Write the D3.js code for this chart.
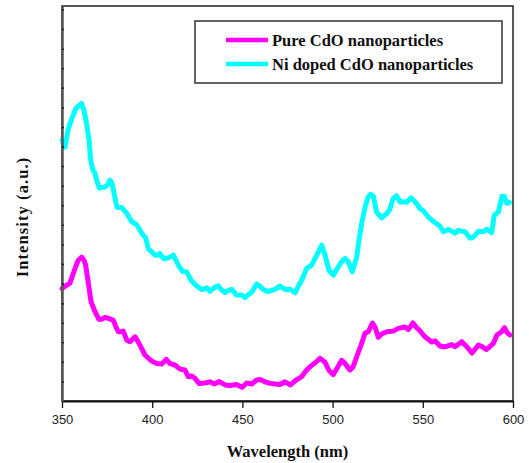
<!DOCTYPE html>
<html>
<head>
<meta charset="utf-8">
<script src="https://cdn.jsdelivr.net/npm/d3@7"></script>
<style>
  body { margin: 0; background: #fff; }
  .tick text { font-family: "Liberation Sans", Arial, sans-serif; font-size: 13px; fill: #222; }
  .title { font-family: "Liberation Serif", "Times New Roman", serif; font-weight: bold; font-size: 16.5px; fill: #111; }
</style>
</head>
<body>
<div id="chart"></div>
<script>
// Pure CdO nanoparticles
var pureWl = [350.0,352.6,354.4,357.2,359.0,360.9,362.2,363.1,364.6,366.1,368.3,370.5,372.2,373.8,375.5,377.5,378.4,380.3,381.2,383.1,384.0,385.9,387.7,390.5,393.2,396.0,399.7,402.5,405.3,407.8,409.9,412.6,415.4,418.2,420.0,421.9,423.7,426.1,429.3,432.0,434.4,437.2,440.4,443.1,446.8,449.8,452.4,455.2,457.9,459.8,462.5,465.3,468.1,470.8,473.6,476.7,479.7,482.9,485.6,488.0,490.2,493.0,495.8,498.0,500.4,503.2,505.0,506.9,509.6,511.3,513.5,516.1,518.0,519.8,522.1,523.5,525.3,527.2,530.0,533.6,536.4,540.1,542.0,544.5,546.6,548.4,551.2,554.9,556.8,559.5,562.3,566.0,567.8,571.6,574.5,577.3,580.8,582.8,585.4,589.1,591.1,593.7,595.3,596.8,598.3];
var pureInt = [5.75,5.92,6.02,6.77,7.19,7.35,7.19,6.94,6.02,5.07,4.56,4.17,4.18,4.27,4.23,4.16,4.13,3.70,3.54,3.55,3.57,3.11,3.03,3.28,2.86,2.35,2.04,1.92,1.89,2.13,1.91,1.84,1.63,1.58,1.24,1.28,1.16,0.89,0.92,0.98,0.87,0.99,0.82,0.79,0.84,0.70,0.92,0.87,1.07,1.10,0.98,0.90,0.87,0.84,0.98,0.82,1.07,1.25,1.58,1.79,1.94,2.18,1.98,1.56,1.35,1.79,2.08,1.92,1.58,1.73,2.30,2.94,3.47,3.54,3.98,3.79,3.25,3.42,3.54,3.57,3.71,3.78,3.65,3.99,3.75,3.59,3.28,3.01,3.08,2.81,2.76,2.88,2.77,3.03,2.76,2.45,2.86,2.78,2.63,2.94,3.37,3.54,3.75,3.48,3.37];

// Ni doped CdO nanoparticles
var niWl = [350.0,351.7,353.5,355.5,357.6,358.9,360.9,362.2,363.7,365.0,365.9,367.2,368.3,369.4,370.7,372.2,373.8,375.5,376.6,377.5,378.4,379.4,380.5,383.1,385.9,388.6,391.4,394.2,396.4,397.8,399.9,401.6,403.4,404.3,406.2,408.9,411.7,413.2,414.5,416.9,419.1,421.9,424.8,427.4,430.2,432.0,434.8,436.6,438.1,440.4,442.0,444.1,446.8,449.6,451.4,453.1,455.2,457.9,459.8,461.6,464.4,466.4,468.1,470.8,473.6,476.4,479.2,480.8,482.9,485.6,488.4,491.2,494.0,495.8,498.0,500.4,503.2,505.2,506.9,508.7,510.9,513.4,514.6,516.1,518.0,519.6,521.0,522.6,524.4,527.2,530.0,531.8,533.5,535.5,537.4,539.7,541.1,543.5,546.6,548.4,550.3,553.1,555.8,559.5,561.4,564.1,566.2,567.8,569.7,573.4,576.2,578.0,580.8,583.5,585.4,588.2,589.6,591.9,593.9,595.2,596.5,598.0];
var niInt = [13.32,12.97,13.91,14.44,14.93,15.05,15.20,14.85,14.13,13.32,12.30,11.79,11.63,11.22,10.87,10.92,10.92,11.07,11.28,11.17,10.82,10.36,9.90,9.88,9.59,9.16,9.01,8.57,8.32,7.79,7.60,7.45,7.45,7.54,7.28,7.31,7.45,7.19,6.94,6.61,6.60,6.12,5.87,5.69,5.78,5.61,5.82,5.89,5.71,5.54,5.64,5.71,5.41,5.41,5.29,5.41,5.56,5.97,5.87,5.69,5.59,5.66,5.70,5.87,5.70,5.71,5.53,5.82,6.17,6.77,6.94,7.45,7.96,7.45,6.68,6.43,6.85,7.14,7.28,7.11,6.60,7.36,8.21,9.07,9.90,10.41,10.56,10.46,9.64,9.36,9.58,9.80,10.34,10.48,10.17,10.18,10.15,10.38,10.09,9.83,9.72,9.40,9.18,8.93,8.65,8.76,8.67,8.57,8.72,8.64,8.32,8.37,8.67,8.64,8.78,8.60,9.49,9.66,10.46,10.46,10.10,10.15];

var xTicks = [350, 400, 450, 500, 550, 600];
var yTicks = d3.range(1, 21);
var seriesNames = ["Pure CdO nanoparticles", "Ni doped CdO nanoparticles"];
var seriesColors = ["#ff00ff", "#00ffff"];

var width = 529,
    height = 463;
var margin = {top: 6, right: 16, bottom: 62, left: 62};
var innerW = width - margin.left - margin.right,
    innerH = height - margin.top - margin.bottom;

var svg = d3.select("#chart").append("svg")
    .attr("width", width)
    .attr("height", height);

var x = d3.scaleLinear().domain([350, 600]).range([0, innerW]);
var y = d3.scaleLinear().domain([0, 20.18]).range([innerH, 0]);

var g = svg.append("g")
    .attr("transform", "translate(" + margin.left + "," + margin.top + ")");

// frame
g.append("rect")
    .attr("width", innerW)
    .attr("height", innerH)
    .attr("fill", "none")
    .attr("stroke", "#222")
    .attr("stroke-width", 1.5);

var line = d3.line()
    .x(function(d) { return x(d[0]); })
    .y(function(d) { return y(d[1]); });

var series = [d3.zip(pureWl, pureInt), d3.zip(niWl, niInt)];

g.selectAll(".series")
    .data(series)
  .enter().append("path")
    .attr("class", "series")
    .attr("d", line)
    .attr("fill", "none")
    .attr("stroke", function(d, i) { return seriesColors[i]; })
    .attr("stroke-width", 5)
    .attr("stroke-linejoin", "round")
    .attr("stroke-linecap", "round");

// x axis
var xAxis = g.append("g")
    .attr("transform", "translate(0," + innerH + ")")
    .call(d3.axisBottom(x).tickValues(xTicks).tickSize(7).tickPadding(7).tickSizeOuter(0));
xAxis.select(".domain").attr("stroke", "#111").attr("stroke-width", 2);
xAxis.selectAll(".tick line").attr("stroke", "#111").attr("stroke-width", 1.3);

// y axis, small inward ticks, no labels
var yAxis = g.append("g")
    .call(d3.axisLeft(y).tickValues(yTicks).tickSize(-2).tickFormat("").tickSizeOuter(0));
yAxis.select(".domain").attr("stroke", "#555").attr("stroke-width", 2.5);
yAxis.selectAll(".tick line").attr("stroke", "#222").attr("stroke-width", 1.5);

// axis titles
svg.append("text")
    .attr("class", "title")
    .attr("x", margin.left + innerW / 2)
    .attr("y", 457)
    .attr("text-anchor", "middle")
    .text("Wavelength (nm)");

svg.append("text")
    .attr("class", "title")
    .attr("transform", "translate(28,217) rotate(-90)")
    .attr("text-anchor", "middle")
    .style("letter-spacing", "1.1px")
    .text("Intensity (a.u.)");

// legend
var legend = svg.append("g").attr("transform", "translate(195,21)");
legend.append("rect")
    .attr("width", 307)
    .attr("height", 62)
    .attr("fill", "#fff")
    .attr("stroke", "#333")
    .attr("stroke-width", 1.5);

var item = legend.selectAll(".item")
    .data(seriesNames)
  .enter().append("g")
    .attr("class", "item")
    .attr("transform", function(d, i) { return "translate(0," + (19 + i * 24) + ")"; });

item.append("line")
    .attr("x1", 31)
    .attr("x2", 73)
    .attr("stroke", function(d, i) { return seriesColors[i]; })
    .attr("stroke-width", 4.5);

item.append("text")
    .attr("class", "title")
    .attr("x", 77)
    .attr("y", 5.5)
    .text(function(d) { return d; });
</script>
</body>
</html>
